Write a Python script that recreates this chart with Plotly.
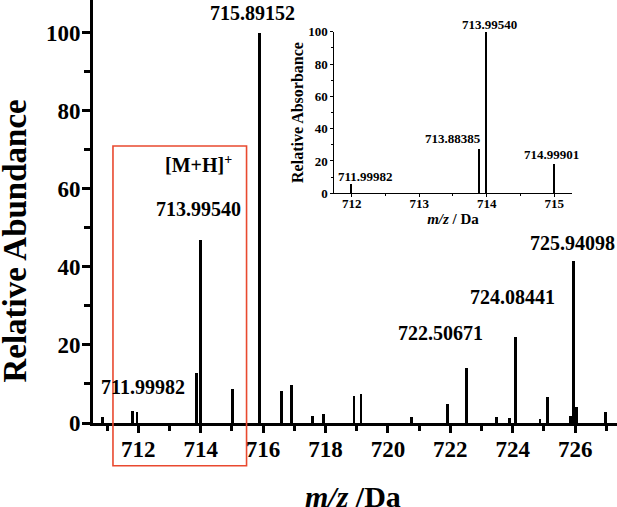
import plotly.graph_objects as go

# ---- data ----
main_mz = [710.86, 711.82, 711.96, 713.86, 713.9954, 715.01, 715.89152, 716.58, 716.92,
           717.59, 717.93, 718.91, 719.14, 720.75, 721.90, 722.50671, 723.48, 723.90,
           724.08441, 724.87, 725.10, 725.85, 725.94098, 726.03, 726.96]
main_abund = [1.5, 3.2, 2.9, 12.9, 47.0, 8.8, 100.0, 8.3, 9.8,
              1.8, 2.3, 7.0, 7.5, 1.6, 4.8, 14.0, 1.5, 1.3,
              22.0, 0.9, 6.6, 1.9, 41.5, 4.1, 2.8]

inset_mz = [711.99982, 713.88385, 713.99540, 714.99901]
inset_abs = [6.0, 27.4, 100.0, 18.6]

main_labels = ["715.89152", "713.99540", "711.99982", "722.50671", "724.08441", "725.94098"]
main_label_x = [715.67, 713.94, 712.15, 721.69, 724.00, 725.91]
main_label_y = [105.0, 54.9, 9.3, 23.0, 32.4, 46.1]

inset_labels = ["713.88385", "714.99901", "711.99982"]
inset_label_x = [713.505, 714.963, 712.204]
inset_label_y = [34.0, 24.3, 10.3]

FONT = "Liberation Serif"

fig = go.Figure()
fig.add_trace(go.Bar(x=main_mz, y=main_abund, width=0.09,
                     marker=dict(color="black", line=dict(width=0)),
                     xaxis="x", yaxis="y", showlegend=False))
fig.add_trace(go.Bar(x=inset_mz, y=inset_abs, width=0.016,
                     marker=dict(color="black", line=dict(width=0)),
                     xaxis="x2", yaxis="y2", showlegend=False))

annotations = []
for t, x, y in zip(main_labels, main_label_x, main_label_y):
    annotations.append(dict(text=t, x=x, y=y, xref="x", yref="y", showarrow=False,
                            xanchor="center", yanchor="middle",
                            font=dict(family=FONT, size=20, color="black", weight="bold")))
annotations.append(dict(text="[M+H]<sup>+</sup>", x=713.94, y=66.5, xref="x", yref="y",
                        showarrow=False, xanchor="center", yanchor="middle",
                        font=dict(family=FONT, size=20, color="black", weight="bold")))
for t, x, y in zip(inset_labels, inset_label_x, inset_label_y):
    annotations.append(dict(text=t, x=x, y=y, xref="x2", yref="y2", showarrow=False,
                            xanchor="center", yanchor="middle",
                            font=dict(family=FONT, size=13, color="black", weight="bold")))
# top label of the inset sits above the inset's y range -> place in paper y
annotations.append(dict(text="713.99540", x=714.047, y=0.9426, xref="x2", yref="paper",
                        showarrow=False, xanchor="center", yanchor="middle",
                        font=dict(family=FONT, size=13, color="black", weight="bold")))
# main axis titles
annotations.append(dict(text="Relative Abundance", x=-0.148, y=0.43, xref="paper", yref="paper",
                        textangle=-90, showarrow=False, xanchor="center", yanchor="middle",
                        font=dict(family=FONT, size=33, color="black", weight="bold")))
annotations.append(dict(text="<i>m/z</i> /Da", x=0.497, y=-0.174, xref="paper", yref="paper",
                        showarrow=False, xanchor="center", yanchor="middle",
                        font=dict(family=FONT, size=30, color="black", weight="bold")))

fig.update_layout(
    width=617, height=507,
    margin=dict(l=93, r=0, t=0, b=84),
    paper_bgcolor="white", plot_bgcolor="white",
    bargap=0,
    font=dict(family=FONT, color="black"),
    annotations=annotations,
    shapes=[dict(type="rect", xref="x", yref="paper",
                 x0=711.19, x1=715.47, y0=-0.101, y1=0.655,
                 line=dict(color="#e9492f", width=1.6), fillcolor="rgba(0,0,0,0)")],
    xaxis=dict(range=[710.55, 727.34], domain=[0, 1], anchor="y", automargin=False,
               showline=True, linewidth=3, linecolor="black", mirror=False,
               showgrid=False, zeroline=False,
               ticks="outside", ticklen=7, tickwidth=3, tickcolor="black",
               dtick=2, tick0=712, ticklabelstandoff=-4,
               minor=dict(ticks="outside", ticklen=5, tickwidth=3, dtick=1, tickcolor="black"),
               tickfont=dict(family=FONT, size=23, color="black", weight="bold")),
    yaxis=dict(range=[0, 108.4], domain=[0, 1], anchor="x", automargin=False,
               showline=True, linewidth=3, linecolor="black",
               showgrid=False, zeroline=False,
               ticks="outside", ticklen=8, tickwidth=3, tickcolor="black",
               dtick=20, tick0=0, ticklabelstandoff=-3,
               minor=dict(ticks="outside", ticklen=6, tickwidth=3, dtick=10, tickcolor="black"),
               tickfont=dict(family=FONT, size=23, color="black", weight="bold")),
    xaxis2=dict(range=[711.74, 715.26], domain=[0.4605, 0.9135], anchor="y2", automargin=False,
                showline=True, linewidth=1, linecolor="black",
                showgrid=False, zeroline=False,
                ticks="outside", ticklen=3, tickwidth=1, tickcolor="black",
                dtick=1, tick0=712, ticklabelstandoff=-5,
                minor=dict(ticks="outside", ticklen=2, tickwidth=1, dtick=0.5, tickcolor="black"),
                tickfont=dict(family=FONT, size=13, color="black", weight="bold"),
                title=dict(text="<i>m/z</i> / Da", standoff=0,
                           font=dict(family=FONT, size=15, color="black", weight="bold"))),
    yaxis2=dict(range=[0, 100], domain=[0.543, 0.925], anchor="x2", automargin=False,
                showline=True, linewidth=1, linecolor="black",
                showgrid=False, zeroline=False,
                ticks="outside", ticklen=3, tickwidth=1, tickcolor="black",
                dtick=20, tick0=0,
                minor=dict(ticks="outside", ticklen=2, tickwidth=1, dtick=10, tickcolor="black"),
                tickfont=dict(family=FONT, size=13, color="black", weight="bold"),
                title=dict(text="Relative Absorbance", standoff=0,
                           font=dict(family=FONT, size=16, color="black", weight="bold"))),
)

fig.write_html("out.html", config={"displayModeBar": False},
               post_script="document.body.style.margin='0';")
